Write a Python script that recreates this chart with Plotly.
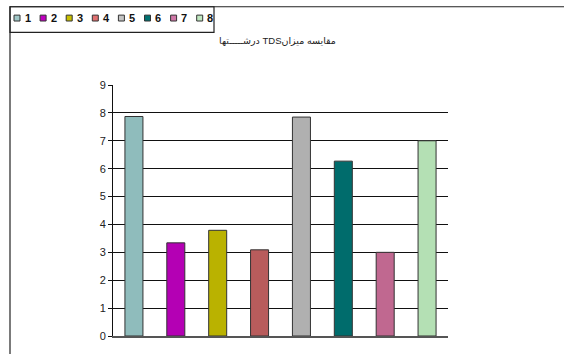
import plotly.graph_objects as go

categories = ["1", "2", "3", "4", "5", "6", "7", "8"]
values = [7.87, 3.34, 3.79, 3.09, 7.85, 6.27, 3.0, 7.0]
bar_colors = ["#8fbcbc", "#b400b4", "#bab200", "#b85c5c",
              "#b0b0b0", "#006c6c", "#c06890", "#b4e0b4"]
legend_colors = ["#a0c8c8", "#c000c0", "#c8c000", "#e07070",
                 "#c4c4c4", "#007070", "#d078a8", "#c0e8c0"]
y_ticks = [0, 1, 2, 3, 4, 5, 6, 7, 8, 9]
# natural Persian title, laid out right-to-left (RLE ... PDF embedding)
title_text = "\u202bمقایسه میزانTDS درشـــــتها\u202c"

W, H = 564, 354
L, R, T, B = 113, 116, 85, 14
PW, PH = W - L - R, H - T - B


def px(x):
    return (x - L) / PW


def py(y):
    return (H - B - y) / PH


fig = go.Figure()
fig.add_trace(go.Bar(
    x=categories, y=values, width=0.43,
    marker=dict(color=bar_colors, line=dict(color="#333333", width=1)),
    showlegend=False, hoverinfo="x+y",
))

shapes = [
    dict(type="line", xref="paper", yref="paper",
         x0=px(10), x1=px(566), y0=py(5.5), y1=py(5.5),
         line=dict(color="#222222", width=1.2)),
    dict(type="line", xref="paper", yref="paper",
         x0=px(10), x1=px(10), y0=py(5), y1=py(360),
         line=dict(color="#222222", width=1.2)),
    dict(type="rect", xref="paper", yref="paper",
         x0=px(10), x1=px(214), y0=py(5.5), y1=py(31.5),
         line=dict(color="#222222", width=1.2), fillcolor="rgba(0,0,0,0)"),
]
annotations = []
for i, (cat, col) in enumerate(zip(categories, legend_colors)):
    x0 = 14 + i * 26.1
    shapes.append(dict(type="rect", xref="paper", yref="paper",
                       x0=px(x0), x1=px(x0 + 6), y0=py(14), y1=py(20),
                       line=dict(color="#333333", width=1), fillcolor=col))
    annotations.append(dict(xref="paper", yref="paper", x=px(x0 + 8.5), y=py(17),
                            text="<b>" + cat + "</b>", showarrow=False,
                            xanchor="left", yanchor="middle",
                            font=dict(family="Arial", size=11, color="#111111")))

annotations.append(dict(xref="paper", yref="paper", x=px(277), y=py(40),
                        text=title_text, showarrow=False,
                        xanchor="center", yanchor="middle",
                        font=dict(family="Arial, DejaVu Sans", size=9.5, color="#222222")))

fig.update_layout(
    width=W, height=H,
    margin=dict(l=L, r=R, t=T, b=B, pad=0),
    paper_bgcolor="white", plot_bgcolor="white",
    shapes=shapes, annotations=annotations,
    xaxis=dict(showticklabels=False, ticks="", showgrid=False,
               showline=True, linecolor="#555555", linewidth=1.5,
               zeroline=False),
    yaxis=dict(range=[0, 9], tickvals=y_ticks, ticks="outside", ticklen=4,
               tickcolor="#111111", showline=True, linecolor="#111111",
               linewidth=1, showgrid=True, gridcolor="#111111", gridwidth=1,
               zeroline=False,
               tickfont=dict(family="Arial", size=11, color="#222222")),
    font=dict(family="Arial"),
)

fig.write_html("out.html")
